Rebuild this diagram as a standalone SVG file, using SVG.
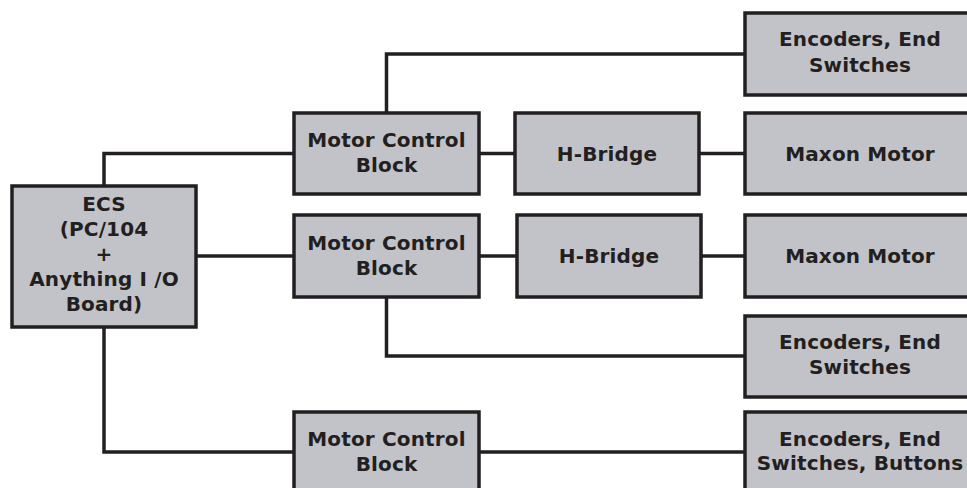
<svg xmlns="http://www.w3.org/2000/svg" width="967" height="488" viewBox="0 0 967 488">
<style>
.box{fill:#c1c3c9;stroke:#231f20;stroke-width:3.5}
.t{font-family:"DejaVu Sans","Verdana",sans-serif;font-weight:bold;font-size:20px;letter-spacing:0.15px;fill:#231f20;text-anchor:middle}
.c{fill:none;stroke:#231f20;stroke-width:3.5}
</style>
<rect width="967" height="488" fill="#fff"/>
<g id="connectors">
<polyline class="c" points="104,186 104,153.5 294,153.5"/>
<line class="c" x1="196" y1="256" x2="294" y2="256"/>
<polyline class="c" points="104,327 104,452 294,452"/>
<polyline class="c" points="386.5,113 386.5,54 745,54"/>
<line class="c" x1="479" y1="153.5" x2="515" y2="153.5"/>
<line class="c" x1="699" y1="153.5" x2="745" y2="153.5"/>
<line class="c" x1="479" y1="256" x2="517" y2="256"/>
<line class="c" x1="701" y1="256" x2="745" y2="256"/>
<polyline class="c" points="386.5,297 386.5,356 745,356"/>
<line class="c" x1="479" y1="452" x2="745" y2="452"/>
</g>
<g id="ecs">
<rect class="box" x="12" y="186" width="184" height="141"/>
<text class="t" x="104" y="211">ECS</text>
<text class="t" x="104" y="236">(PC/104</text>
<text class="t" x="104" y="261">+</text>
<text class="t" x="104" y="286">Anything I /O</text>
<text class="t" x="104" y="311">Board)</text>
</g>
<g id="mcb1">
<rect class="box" x="294" y="113" width="185" height="81"/>
<text class="t" x="386.5" y="147">Motor Control</text>
<text class="t" x="386.5" y="172">Block</text>
</g>
<g id="mcb2">
<rect class="box" x="294" y="215" width="185" height="82"/>
<text class="t" x="386.5" y="249.5">Motor Control</text>
<text class="t" x="386.5" y="274.5">Block</text>
</g>
<g id="mcb3">
<rect class="box" x="294" y="412" width="185" height="82"/>
<text class="t" x="386.5" y="446">Motor Control</text>
<text class="t" x="386.5" y="471">Block</text>
</g>
<g id="hb1">
<rect class="box" x="515" y="113" width="184" height="81"/>
<text class="t" x="607" y="160.5">H-Bridge</text>
</g>
<g id="hb2">
<rect class="box" x="517" y="215" width="184" height="82"/>
<text class="t" x="609" y="263">H-Bridge</text>
</g>
<g id="enc1">
<rect class="box" x="745" y="13" width="232" height="82"/>
<text class="t" x="860" y="46">Encoders, End</text>
<text class="t" x="860" y="71.5">Switches</text>
</g>
<g id="maxon1">
<rect class="box" x="745" y="113" width="232" height="81"/>
<text class="t" x="860" y="160.5">Maxon Motor</text>
</g>
<g id="maxon2">
<rect class="box" x="745" y="215" width="232" height="82"/>
<text class="t" x="860" y="263">Maxon Motor</text>
</g>
<g id="enc2">
<rect class="box" x="745" y="316" width="232" height="81"/>
<text class="t" x="860" y="349">Encoders, End</text>
<text class="t" x="860" y="374">Switches</text>
</g>
<g id="enc3">
<rect class="box" x="745" y="412" width="232" height="82"/>
<text class="t" x="860" y="445.5">Encoders, End</text>
<text class="t" x="860" y="470">Switches, Buttons</text>
</g>
</svg>
